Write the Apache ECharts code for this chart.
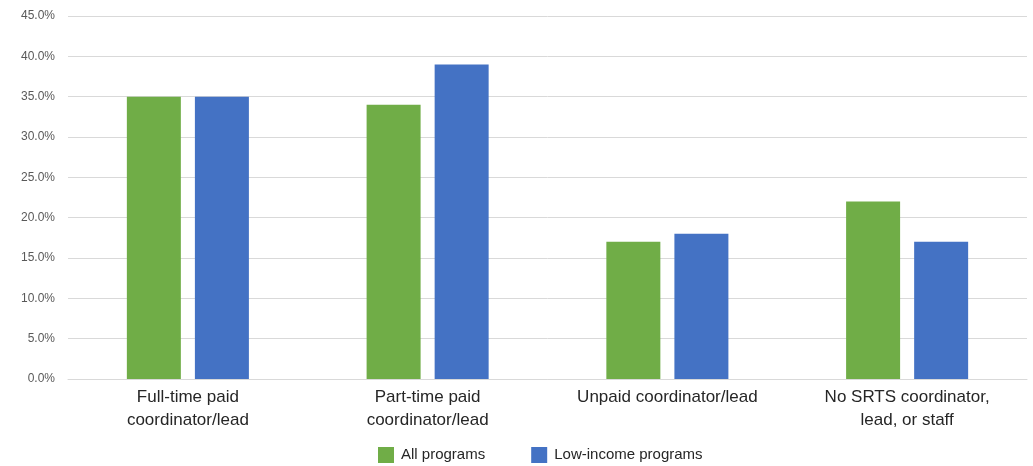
<!DOCTYPE html>
<html>
<head>
<meta charset="utf-8">
<script src="https://cdn.jsdelivr.net/npm/echarts@6/dist/echarts.min.js"></script>
<style>
  html, body { margin: 0; padding: 0; background: #ffffff; }
  #chart { width: 1033px; height: 466px; }
</style>
</head>
<body>
<div id="chart"></div>
<script>
// Staffing categories along the x axis
const categories = [
  'Full-time paid\ncoordinator/lead',
  'Part-time paid\ncoordinator/lead',
  'Unpaid coordinator/lead',
  'No SRTS coordinator,\nlead, or staff'
];
// Share of programs (percent)
const allPrograms = [35, 34, 17, 22];
const lowIncomePrograms = [35, 39, 18, 17];
const seriesNames = ['All programs', 'Low-income programs'];

const chart = echarts.init(document.getElementById('chart'));
chart.setOption({
  animation: false,
  color: ['#70AD47', '#4472C4'],
  textStyle: { fontFamily: 'Liberation Sans, Arial, sans-serif' },
  grid: { left: 68, right: 6, top: 16, bottom: 87, containLabel: false },
  legend: {
    bottom: 3,
    left: 378,
    padding: 0,
    itemWidth: 16,
    itemHeight: 16,
    itemGap: 46,
    icon: 'rect',
    textStyle: { fontSize: 15, color: '#262626', padding: [0, 0, 0, 2] },
    data: seriesNames
  },
  xAxis: {
    type: 'category',
    data: categories,
    axisLine: { lineStyle: { color: '#D9D9D9' } },
    axisTick: { show: false },
    axisLabel: {
      fontSize: 17,
      color: '#262626',
      lineHeight: 23,
      margin: 7,
      interval: 0
    }
  },
  yAxis: {
    type: 'value',
    min: 0,
    max: 45,
    interval: 5,
    axisLine: { show: false },
    axisTick: { show: false },
    splitLine: { lineStyle: { color: '#D9D9D9' } },
    axisLabel: {
      fontSize: 12,
      color: '#595959',
      margin: 13,
      formatter: v => v.toFixed(1) + '%'
    }
  },
  series: [
    {
      name: seriesNames[0],
      type: 'bar',
      data: allPrograms,
      barWidth: 54,
      barGap: '26%'
    },
    {
      name: seriesNames[1],
      type: 'bar',
      data: lowIncomePrograms,
      barWidth: 54,
      barGap: '26%'
    }
  ]
});
</script>
</body>
</html>
